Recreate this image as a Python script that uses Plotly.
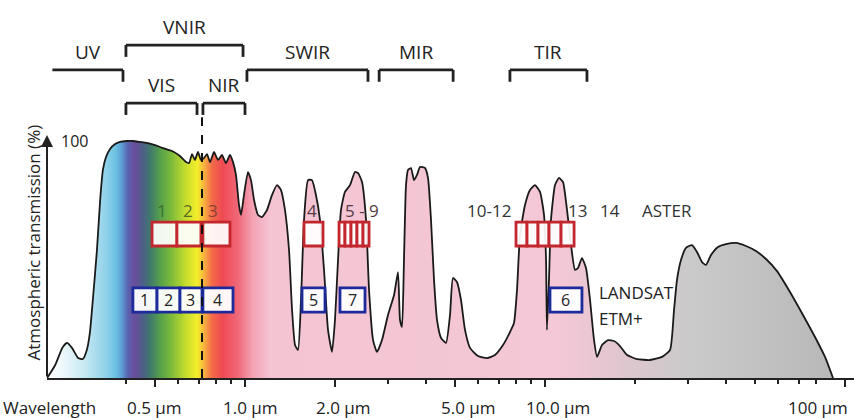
import numpy as np
import plotly.graph_objects as go

# ---------------- data ----------------
wavelength_um = [0.219, 0.233, 0.246, 0.255, 0.265, 0.278, 0.288, 0.297, 0.304, 0.311,
                 0.321, 0.329, 0.336, 0.344, 0.355, 0.369, 0.383, 0.404, 0.423, 0.447,
                 0.471, 0.501, 0.533, 0.571, 0.607, 0.636, 0.651, 0.666, 0.681, 0.697,
                 0.713, 0.730, 0.747, 0.765, 0.788, 0.813, 0.838, 0.864, 0.891, 0.912,
                 0.933, 0.955, 0.970, 0.992, 1.023, 1.047, 1.072, 1.105, 1.139, 1.184,
                 1.230, 1.279, 1.318, 1.359, 1.402, 1.435, 1.468, 1.502, 1.537, 1.573,
                 1.622, 1.672, 1.724, 1.778, 1.834, 1.891, 1.950, 1.995, 2.042, 2.089,
                 2.154, 2.239, 2.326, 2.381, 2.455, 2.532, 2.591, 2.672, 2.754, 2.862,
                 2.997, 3.139, 3.236, 3.286, 3.337, 3.388, 3.441, 3.494, 3.575, 3.659,
                 3.744, 3.831, 3.981, 4.074, 4.169, 4.266, 4.365, 4.502, 4.677, 4.823,
                 4.935, 5.088, 5.248, 5.412, 5.623, 5.979, 6.408, 6.813, 7.244, 7.643,
                 7.882, 8.066, 8.254, 8.577, 8.913, 9.261, 9.624, 9.924, 10.08, 10.15,
                 10.31, 10.47, 10.80, 11.13, 11.48, 11.84, 12.21, 12.59, 12.88, 13.28,
                 13.70, 14.13, 14.57, 14.91, 15.49, 16.22, 16.98, 17.78, 18.77, 20.26,
                 22.39, 24.55, 26.11, 26.92, 27.54, 28.40, 29.51, 30.90, 32.11, 33.37,
                 34.41, 35.76, 37.73, 40.12, 43.33, 46.77, 50.50, 54.54, 59.35, 65.57,
                 72.44, 79.43, 85.77, 91.20]
transmission_pct = [0, 5.5, 12.7, 14.8, 12.7, 8.4, 8.0, 11.8, 19.0, 32.9,
                    54.0, 75.1, 87.8, 93.2, 96.6, 98.7, 99.6, 100, 100, 99.6,
                    99.2, 98.3, 97.0, 95.8, 93.7, 91.1, 90.7, 94.5, 92.0, 95.4,
                    92.0, 92.8, 94.5, 91.1, 95.4, 92.0, 94.1, 90.7, 94.1, 91.1,
                    85.7, 73.0, 68.8, 77.2, 86.9, 83.5, 75.1, 68.8, 67.9, 70.9,
                    77.2, 81.4, 79.3, 70.9, 54.0, 28.7, 13.9, 11.8, 32.9, 66.7,
                    83.5, 83.5, 77.2, 66.7, 45.6, 20.3, 11.0, 24.5, 49.8, 70.9,
                    78.5, 81.4, 86.9, 86.5, 82.7, 66.7, 37.1, 16.0, 11.0, 16.0,
                    26.6, 35.0, 44.7, 24.5, 21.5, 49.8, 81.4, 87.8, 88.6, 83.5,
                    85.7, 89.0, 88.6, 84.4, 66.7, 41.4, 24.5, 16.9, 14.8, 26.6,
                    42.2, 40.5, 32.9, 20.3, 12.7, 9.3, 8.4, 9.7, 13.9, 19.4,
                    23.2, 37.1, 60.3, 73.0, 79.3, 81.4, 78.5, 68.8, 49.8, 20.3,
                    41.4, 66.7, 81.4, 84.4, 82.7, 70.9, 56.1, 45.6, 46.4, 50.6,
                    46.4, 32.9, 16.0, 8.9, 13.9, 16.0, 15.6, 13.5, 9.7, 8.0,
                    7.6, 8.9, 11.8, 28.7, 41.4, 49.8, 54.9, 56.1, 53.2, 48.9,
                    47.7, 51.9, 55.3, 56.5, 57.0, 55.7, 53.6, 50.2, 45.1, 36.3,
                    26.6, 17.3, 8.9, 0]

# spectral region brackets
bracket_labels = ["UV", "VNIR", "VIS", "NIR", "SWIR", "MIR", "TIR"]
bracket_start = [0.228, 0.401, 0.401, 0.724, 1.015, 2.80, 7.64]
bracket_end = [0.392, 0.985, 0.692, 1.0, 2.57, 4.94, 13.8]
bracket_level = [130, 140.5, 116, 116, 130, 130, 130]
bracket_left_tick = [False, True, True, True, True, True, True]

# ASTER bands
aster_lo = [0.490, 0.593, 0.724, 1.573, 2.058, 2.154, 2.256, 2.362, 2.474, 8.005, 8.71, 9.478, 10.31, 11.31]
aster_hi = [0.593, 0.713, 0.891, 1.820, 2.154, 2.256, 2.362, 2.474, 2.591, 8.71, 9.478, 10.31, 11.31, 12.50]
aster_box_range = [55.7, 65.8]
aster_text = ["1", "2", "3", "4", "5 - 9", "10-12", "13", "14", "ASTER"]
aster_text_x = [0.529, 0.646, 0.782, 1.672, 2.455, 6.51, 12.79, 16.47, 25.5]
aster_text_color = ["#3a7030", "#5d6a22", "#8c4030", "#553a44", "#553a44", "#333333", "#333333", "#333333", "#333333"]
aster_text_y = 70.5

# Landsat ETM+ bands
landsat_lo = [0.423, 0.509, 0.607, 0.724, 1.549, 2.073, 10.39]
landsat_hi = [0.509, 0.607, 0.719, 0.912, 1.848, 2.512, 13.28]
landsat_names = ["1", "2", "3", "4", "5", "7", "6"]
landsat_box_range = [27.8, 38.0]

vis_nir_boundary = 0.719
tick_vals = [0.5, 1, 2, 5, 10, 100]
tick_text = ["0.5 µm", "1.0 µm", "2.0 µm", "5.0 µm", "10.0 µm", "100 µm"]
minor_ticks = [0.4, 0.6, 0.7, 0.8, 0.9, 3, 4, 6, 7, 8, 9, 20, 30, 40, 50, 60, 70, 80]

# ---------------- style ----------------
FONT = "Open Sans"
TXT = "#222222"
RED = "#c4262e"
BLUE = "#1c2a9c"
tick_label_shift = [0, 5, 8, 14, 13, -27]

grad = [[0.0, "#ffffff"], [0.019, "#eef8fb"], [0.048, "#c6e8f2"], [0.074, "#92d2ea"],
        [0.087, "#6cc2e2"], [0.095, "#5e9ed4"], [0.103, "#5a62b2"], [0.111, "#6a4e9c"],
        [0.121, "#505c8a"], [0.131, "#3f786c"], [0.144, "#56a04a"], [0.159, "#80bc3a"],
        [0.176, "#c4dc2e"], [0.191, "#f4ee2a"], [0.200, "#f8b040"], [0.210, "#f26a48"],
        [0.223, "#ee4a52"], [0.243, "#f06878"], [0.261, "#f3a2b4"], [0.284, "#f4c4d2"],
        [0.650, "#f4c8d6"], [0.735, "#dec6ce"], [0.818, "#cacaca"], [1.0, "#b8b8b8"]]

fig = go.Figure()
fig.add_trace(go.Scatter(
    x=wavelength_um, y=transmission_pct, mode="lines",
    line=dict(color="#1a1a1a", width=1.8, shape="spline", smoothing=0.5),
    fill="tozeroy",
    fillgradient=dict(type="horizontal", colorscale=grad),
    hoverinfo="skip"))

shapes = []
annotations = []

# brackets
for lab, a, b, lev, lt in zip(bracket_labels, bracket_start, bracket_end, bracket_level, bracket_left_tick):
    ln = dict(color="#222222", width=2.8)
    shapes.append(dict(type="line", xref="x", yref="y", x0=a, x1=b, y0=lev, y1=lev, line=ln))
    shapes.append(dict(type="line", xref="x", yref="y", x0=b, x1=b, y0=lev, y1=lev - 5, line=ln))
    if lt:
        shapes.append(dict(type="line", xref="x", yref="y", x0=a, x1=a, y0=lev, y1=lev - 5, line=ln))
    annotations.append(dict(x=np.log10(np.sqrt(a * b)), y=lev + 7.6, xref="x", yref="y",
                            text=lab, showarrow=False, font=dict(family=FONT, size=19, color=TXT)))

# ASTER boxes
for lo, hi in zip(aster_lo, aster_hi):
    shapes.append(dict(type="rect", xref="x", yref="y", x0=lo, x1=hi,
                       y0=aster_box_range[0], y1=aster_box_range[1],
                       line=dict(color=RED, width=2.8), fillcolor="rgba(255,255,255,0.92)"))
for t, xv, c in zip(aster_text, aster_text_x, aster_text_color):
    annotations.append(dict(x=np.log10(xv), y=aster_text_y, xref="x", yref="y", text=t,
                            showarrow=False, font=dict(family=FONT, size=17, color=c)))

# Landsat boxes
for lo, hi, nm in zip(landsat_lo, landsat_hi, landsat_names):
    shapes.append(dict(type="rect", xref="x", yref="y", x0=lo, x1=hi,
                       y0=landsat_box_range[0], y1=landsat_box_range[1],
                       line=dict(color=BLUE, width=2.8), fillcolor="rgba(255,255,255,0.95)"))
    annotations.append(dict(x=np.log10(np.sqrt(lo * hi)), y=sum(landsat_box_range) / 2,
                            xref="x", yref="y", text=nm, showarrow=False,
                            font=dict(family=FONT, size=16, color=TXT)))
annotations.append(dict(x=np.log10(14.91), y=35.9, xref="x", yref="y", text="LANDSAT",
                        xanchor="left", showarrow=False, font=dict(family=FONT, size=17, color=TXT)))
annotations.append(dict(x=np.log10(14.91), y=25.3, xref="x", yref="y", text="ETM+",
                        xanchor="left", showarrow=False, font=dict(family=FONT, size=17, color=TXT)))

# VIS / NIR boundary
shapes.append(dict(type="line", xref="x", yref="y", x0=vis_nir_boundary, x1=vis_nir_boundary,
                   y0=0, y1=110, line=dict(color="#111111", width=2, dash="dash")))

# y axis arrow
annotations.append(dict(x=0, xref="paper", y=102.5, yref="y", ax=0, axref="pixel",
                        ay=0, ayref="y", text="", showarrow=True, arrowhead=2,
                        arrowsize=1.2, arrowwidth=2, arrowcolor="#222222"))
annotations.append(dict(x=0, xref="paper", xshift=12, xanchor="left", y=100, yref="y",
                        text="100", showarrow=False, font=dict(family=FONT, size=16, color=TXT)))
annotations.append(dict(x=0, xref="paper", xshift=-27, y=(378 - 243) / 378, yref="paper",
                        text="Atmospheric transmission (%)", textangle=-90, showarrow=False,
                        font=dict(family=FONT, size=17, color=TXT)))

# x tick labels
for v, t, s in zip(tick_vals, tick_text, tick_label_shift):
    annotations.append(dict(x=np.log10(v), xref="x", y=0, yref="paper", yanchor="top",
                            yshift=-16, xshift=s, text=t, showarrow=False,
                            font=dict(family=FONT, size=17, color=TXT)))
annotations.append(dict(x=0, xref="paper", xshift=-46, xanchor="left", y=0, yref="paper",
                        yanchor="top", yshift=-16, text="Wavelength", showarrow=False,
                        font=dict(family=FONT, size=17, color=TXT)))

fig.update_layout(
    width=854, height=418,
    margin=dict(l=47, r=0, t=0, b=40),
    plot_bgcolor="white", paper_bgcolor="white",
    showlegend=False,
    shapes=shapes, annotations=annotations,
    xaxis=dict(type="log", range=[-0.66, 2.03], showgrid=False, zeroline=False,
               showline=True, linecolor="#222222", linewidth=2,
               ticks="outside", tickmode="array", tickvals=tick_vals, ticklen=7,
               tickwidth=2, tickcolor="#222222", showticklabels=False,
               minor=dict(tickmode="array", tickvals=minor_ticks, ticks="outside",
                          ticklen=4, tickwidth=2, tickcolor="#222222")),
    yaxis=dict(range=[0, 159.5], visible=False, fixedrange=True),
)

fig.write_html("out.html")
